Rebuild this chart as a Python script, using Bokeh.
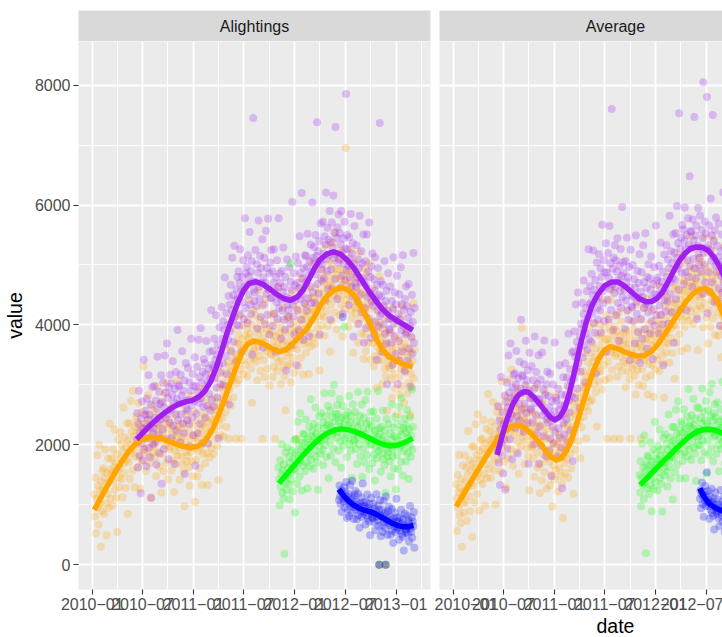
import pandas as pd
from bokeh.plotting import figure
from bokeh.layouts import row, column
from bokeh.models import Range1d, FixedTicker, Label, Title, ColumnDataSource
from bokeh.embed import file_html
from bokeh.resources import INLINE

FONT = "Liberation Sans"
CHUNK_DAYS = 30.4                     # each inner list holds roughly one month of daily counts
EPOCH = pd.Timestamp("2010-01-01")    # fitted-curve days are counted from here

x_tick_months = ["2010-01", "2010-07", "2011-01", "2011-07", "2012-01", "2012-07", "2013-01"]
x_minor_months = ["2010-04", "2010-10", "2011-04", "2011-10", "2012-04", "2012-10", "2013-04"]
y_ticks = [0, 2000, 4000, 6000, 8000]
y_tick_labels = ["0", "2000", "4000", "6000", "8000"]
y_minor_ticks = [1000, 3000, 5000, 7000]
y_limits = (-415, 8728)

colors = {"orange": "#FFA500", "purple": "#A020F0", "green": "#00FF00", "blue": "#0000FF"}

# ---------------- Alightings ----------------
alight_orange_start = "2010-01-08"
alight_orange = [
    [1175, 805, 1455, 525, 1105, 1825, 955, 1315, 665, 1995, 1015, 1235, 300, 1385, 895, 1565],
    [1240, 1610, 850, 1450, 1920, 1020, 1340, 490, 1530, 1180, 1770, 950, 1390, 2350, 1100, 1580],
    [1765, 1525, 985, 1925, 1375, 1635, 2255, 1245, 1705, 1115, 1845, 545, 1565, 2085, 1455, 1295],
    [1620, 2210, 1770, 1430, 2010, 1120, 1890, 2620, 1690, 1530, 2130, 1280, 1960, 1750, 2360, 850],
    [2080, 1710, 2360, 1430, 2010, 2730, 1860, 2220, 1570, 2900, 1920, 2140, 1290, 2290, 1800, 2470],
    [2015, 2385, 1625, 2225, 2695, 1795, 2115, 1265, 2305, 1955, 2545, 1725, 2165, 3300, 1875, 2355],
    [2340, 2100, 1560, 2500, 1950, 2210, 2830, 1820, 2280, 1690, 2420, 1120, 2140, 2660, 2030, 1870],
    [1975, 2565, 2125, 1785, 2365, 1475, 2245, 2975, 2045, 1885, 2485, 1635, 2315, 2105, 2715, 1205],
    [2210, 1840, 2490, 1560, 2140, 2860, 1990, 2350, 1700, 3030, 2050, 2270, 1420, 2420, 1930, 2600],
    [1960, 2330, 1570, 2170, 2640, 1740, 2060, 1210, 2250, 1900, 2490, 1670, 2110, 3070, 1820, 2300],
    [2195, 1955, 1415, 2355, 1805, 2065, 2685, 1675, 2135, 1545, 2275, 975, 1995, 2515, 1885, 1725],
    [1815, 2405, 1965, 1625, 2205, 1315, 2085, 2815, 1885, 1725, 2325, 1475, 2155, 1945, 2555, 1045],
    [2120, 1750, 2400, 1470, 2050, 2770, 1900, 2260, 1610, 2940, 1960, 2180, 1330, 2330, 1840, 2510],
    [2080, 2450, 1690, 2290, 2760, 1860, 2180, 1330, 2370, 2020, 2610, 1790, 2230, 3190, 1940, 2420],
    [2630, 2390, 1850, 2790, 2240, 2500, 3120, 2110, 2570, 1980, 2710, 1410, 2430, 2950, 2320, 2160],
    [2635, 3225, 2785, 2445, 3025, 2135, 2905, 3635, 2705, 2545, 3145, 2295, 2975, 2765, 3375, 2100],
    [3300, 2930, 3580, 2650, 3230, 3950, 3080, 3440, 2790, 4120, 3140, 3360, 2100, 3510, 3020, 3690],
    [3470, 3840, 3080, 3680, 4150, 3250, 3570, 2100, 3760, 3410, 4000, 3180, 3620, 4580, 3330, 3810],
    [3920, 3680, 3140, 4080, 3530, 3790, 4410, 3400, 3860, 3270, 4000, 2700, 3720, 4240, 3610, 3450],
    [3575, 4165, 3725, 3385, 3965, 3075, 3845, 4575, 3645, 3485, 4085, 3235, 3915, 3705, 4315, 2100],
    [3780, 3410, 4060, 3130, 3710, 4430, 3560, 3920, 3270, 4600, 3620, 3840, 2990, 3990, 3500, 4170],
    [3520, 3890, 3130, 3730, 4200, 3300, 3620, 2100, 3810, 3460, 4050, 3230, 3670, 4630, 3380, 3860],
    [3795, 3555, 3015, 3955, 3405, 3665, 4285, 3275, 3735, 3145, 3875, 2575, 3595, 4115, 3485, 3325],
    [3540, 4130, 3690, 3350, 3930, 3040, 3810, 4540, 3610, 3450, 4050, 3200, 3880, 3670, 4280, 2100],
    [3960, 3590, 4240, 3310, 3890, 4610, 3740, 4100, 3450, 4780, 3800, 4020, 3170, 4170, 3680, 4350],
    [3930, 4300, 3540, 4140, 4610, 3710, 4030, 3180, 4220, 3870, 4460, 3640, 4080, 5040, 3790, 4270],
    [4460, 4220, 3680, 4620, 4070, 4330, 4950, 3940, 4400, 3810, 4540, 3240, 4260, 4780, 4150, 3990],
    [4320, 4910, 4470, 4130, 4710, 3820, 4590, 5320, 4390, 4230, 4830, 3980, 4660, 4450, 5060, 3550],
    [4715, 4345, 4995, 4065, 4645, 5365, 4495, 4855, 4205, 5535, 4555, 4775, 3925, 4925, 4435, 5105],
    [4555, 4925, 4165, 4765, 5235, 4335, 4655, 3805, 4845, 4495, 5085, 4265, 4705, 6950, 4415, 4895],
    [4755, 4515, 3975, 4915, 4365, 4625, 5245, 4235, 4695, 4105, 4835, 3535, 4555, 5075, 4445, 4285],
    [4200, 4790, 4350, 4010, 4590, 3700, 4470, 5200, 4270, 4110, 4710, 3860, 4540, 4330, 4940, 3430],
    [4210, 3840, 4490, 3560, 4140, 4860, 3990, 4350, 3700, 5030, 4050, 4270, 3420, 4420, 3930, 4600],
    [3700, 4070, 3310, 3910, 4380, 3480, 3800, 2950, 3990, 3640, 4230, 3410, 3850, 4810, 3560, 4040],
    [3790, 3550, 3010, 3950, 3400, 3660, 4280, 3270, 3730, 3140, 3870, 2570, 3590, 4110, 3480, 3320],
    [3280, 3870, 3430, 3090, 3670, 2780, 3550, 4280, 3350, 3190, 3790, 2940, 3620, 3410, 4020, 2510],
    [3485, 3115, 3765, 2835, 3415, 4135, 3265, 3625, 2975, 4305, 3325, 3545, 2695, 3695, 3205, 3875],
    [3250, 3620, 2860, 3460, 3930, 3030, 3350, 2500, 3540, 3190, 3780, 2960, 3400, 4360, 3110, 3590],
]
alight_orange_fit_day = [7, 30, 55, 80, 105, 130, 155, 180, 205, 230, 255, 280, 305, 330, 355, 380,
                         400, 420, 440, 460, 480, 500, 520, 540, 560, 580, 600, 625, 650, 675, 700,
                         725, 750, 775, 800, 825, 850, 875, 898, 920, 945, 965, 985, 1005, 1025,
                         1045, 1070, 1095, 1125, 1156]
alight_orange_fit = [912, 1110, 1320, 1520, 1710, 1880, 2010, 2090, 2120, 2120, 2095, 2050, 2005,
                     1970, 1955, 1975, 2030, 2150, 2320, 2550, 2800, 3060, 3310, 3540, 3680, 3730,
                     3715, 3665, 3600, 3555, 3590, 3700, 3820, 3940, 4130, 4340, 4500, 4590, 4623,
                     4590, 4490, 4340, 4170, 3990, 3760, 3600, 3470, 3400, 3340, 3300]

alight_purple_start = "2010-06-10"
alight_purple = [
    [2090, 2530, 1620, 2340, 2900, 1820, 2210, 1190, 2440, 2020, 2720, 1740, 2270, 3420, 1920, 2500],
    [2570, 2290, 1640, 2770, 2110, 2420, 3160, 1950, 2500, 1790, 2670, 1110, 2330, 2960, 2200, 2010],
    [2270, 2980, 2450, 2040, 2740, 1670, 2600, 3470, 2360, 2160, 2880, 1860, 2680, 2430, 3160, 1350],
    [2710, 2260, 3040, 1930, 2620, 3490, 2440, 2870, 2090, 3690, 2510, 2780, 1760, 2960, 2370, 3170],
    [2585, 3025, 2115, 2835, 3395, 2315, 2705, 1685, 2935, 2515, 3215, 2235, 2765, 3915, 2415, 2995],
    [2970, 2690, 2040, 3170, 2510, 2820, 3560, 2350, 2900, 2190, 3070, 1510, 2730, 3360, 2600, 2410],
    [2570, 3280, 2750, 2340, 3040, 1970, 2900, 3770, 2660, 2460, 3180, 2160, 2980, 2730, 3460, 1650],
    [2970, 2520, 3300, 2190, 2880, 3750, 2700, 3130, 2350, 3950, 2770, 3040, 2020, 3220, 2630, 3430],
    [2920, 3360, 2450, 3170, 3730, 2650, 3040, 2020, 3270, 2850, 3550, 2570, 3100, 4250, 2750, 3330],
    [3570, 3290, 2640, 3770, 3110, 3420, 4160, 2950, 3500, 2790, 3670, 2110, 3330, 3960, 3200, 3010],
    [3590, 4300, 3770, 3360, 4060, 2990, 3920, 4790, 3680, 3480, 4200, 3180, 4000, 3750, 4480, 2670],
    [4340, 3890, 4670, 3560, 4250, 5120, 4070, 4500, 3720, 5320, 4140, 4410, 3390, 4590, 4000, 4800],
    [4450, 4890, 3980, 4700, 5260, 4180, 4570, 3550, 4800, 4380, 5080, 4100, 4630, 5780, 4280, 4860],
    [4960, 4680, 4030, 5160, 4500, 4810, 5550, 4340, 4890, 4180, 5060, 3500, 4720, 7450, 4590, 4400],
    [4540, 5250, 4720, 4310, 5010, 3940, 4870, 5740, 4630, 4430, 5150, 4130, 4950, 4700, 5430, 3620],
    [4790, 4340, 5120, 4010, 4700, 5570, 4520, 4950, 4170, 5770, 4590, 4860, 3840, 5040, 4450, 5250],
    [4450, 4890, 3980, 4700, 5260, 4180, 4570, 3550, 4800, 4380, 5080, 4100, 4630, 5780, 4280, 4860],
    [4700, 4420, 3770, 4900, 4240, 4550, 5290, 4080, 4630, 3920, 4800, 3240, 4460, 5090, 4330, 4140],
    [4250, 4960, 4430, 4020, 4720, 3650, 4580, 6050, 4340, 4140, 4860, 3840, 4660, 4410, 5140, 3330],
    [4700, 4250, 5030, 3920, 4610, 5480, 4430, 4860, 4080, 6200, 4500, 4770, 3750, 4950, 4360, 5160],
    [4710, 5150, 4240, 4960, 5520, 4440, 4830, 3810, 5060, 4640, 5340, 4360, 4890, 6040, 4540, 5120],
    [5300, 5020, 4370, 5500, 4840, 5150, 7380, 4680, 5230, 4520, 5400, 3840, 5060, 5690, 4930, 4740],
    [5010, 5720, 5190, 4780, 5480, 4410, 5340, 6210, 5100, 4900, 5620, 4600, 5420, 5170, 5900, 4090],
    [5380, 4930, 5710, 4600, 5290, 6160, 5110, 5540, 4760, 7300, 5180, 5450, 4430, 5630, 5040, 5840],
    [5090, 5530, 4620, 5340, 5900, 4820, 5210, 4190, 5440, 5020, 5720, 4740, 5270, 7850, 4920, 5500],
    [5260, 4980, 4330, 5460, 4800, 5110, 5850, 4640, 5190, 4480, 5360, 3800, 5020, 5650, 4890, 4700],
    [4620, 5330, 4800, 4390, 5090, 4020, 4950, 5820, 4710, 4510, 5230, 4210, 5030, 4780, 5510, 3700],
    [4730, 4280, 5060, 3950, 4640, 5510, 4460, 4890, 4110, 5710, 4530, 4800, 3780, 4980, 4390, 5190],
    [4320, 4760, 3850, 4570, 5130, 4050, 4440, 3420, 4670, 4250, 4950, 3970, 4500, 7370, 4150, 4730],
    [4470, 4190, 3540, 4670, 4010, 4320, 5060, 3850, 4400, 3690, 4570, 3010, 4230, 4860, 4100, 3910],
    [3930, 4640, 4110, 3700, 4400, 3330, 4260, 5130, 4020, 3820, 4540, 3520, 4340, 4090, 4820, 3010],
    [4180, 3730, 4510, 3400, 4090, 4960, 3910, 4340, 3560, 5160, 3980, 4250, 3230, 4430, 3840, 4640],
    [3870, 4310, 3400, 4120, 4680, 3600, 3990, 2970, 4220, 3800, 4500, 3520, 4050, 5200, 3700, 4280],
]
alight_purple_fit_day = [160, 185, 210, 235, 260, 285, 310, 335, 360, 385, 405, 425, 445, 465, 485,
                         505, 525, 545, 565, 590, 615, 640, 665, 690, 715, 740, 760, 780, 800, 820,
                         845, 870, 895, 920, 945, 970, 995, 1020, 1045, 1070, 1095, 1125, 1156]
alight_purple_fit = [2090, 2210, 2330, 2435, 2530, 2610, 2675, 2715, 2740, 2800, 2890, 3040, 3260,
                     3540, 3850, 4120, 4370, 4570, 4690, 4720, 4680, 4600, 4510, 4440, 4410, 4470,
                     4580, 4750, 4930, 5080, 5180, 5220, 5180, 5080, 4940, 4760, 4580, 4420, 4270,
                     4160, 4080, 4000, 3912]

alight_green_start = "2011-11-03"
alight_green = [
    [1620, 1420, 990, 1740, 1300, 1510, 2010, 1200, 1570, 1100, 1680, 180, 1460, 1870, 1370, 1240],
    [1490, 1960, 1610, 1340, 1800, 1090, 1700, 5030, 1540, 1420, 1900, 1220, 1760, 1590, 2080, 870],
    [1865, 1575, 2095, 1345, 1815, 2385, 1695, 1985, 1465, 2525, 1745, 1915, 1235, 2035, 1645, 2185],
    [1870, 2170, 1560, 2040, 2420, 1700, 1950, 1270, 2100, 1820, 2300, 1640, 1990, 2760, 1760, 2140],
    [2230, 2030, 1600, 2350, 1910, 2120, 2620, 1810, 2180, 1710, 2290, 1250, 2070, 2480, 1980, 1850],
    [2060, 2530, 2180, 1910, 2370, 1660, 2270, 2860, 2110, 1990, 2470, 1790, 2330, 2160, 2650, 1440],
    [2340, 2050, 2570, 1820, 2290, 2860, 2170, 2460, 1940, 3000, 2220, 2390, 1710, 2510, 2120, 2660],
    [2215, 2515, 1905, 2385, 2765, 2045, 2295, 1615, 2445, 2165, 2645, 1985, 2335, 3970, 2105, 2485],
    [2425, 2225, 1795, 2545, 2105, 2315, 2815, 2005, 2375, 1905, 2485, 1445, 2265, 2675, 2175, 2045],
    [2080, 2550, 2200, 1930, 2390, 1680, 2290, 2880, 2130, 2010, 2490, 1810, 2350, 2180, 2670, 1460],
    [2225, 1935, 2455, 1705, 2175, 2745, 2055, 2345, 1825, 2885, 2105, 2275, 1595, 2395, 2005, 2545],
    [2005, 2305, 1695, 2175, 2555, 1835, 2085, 1405, 2235, 1955, 2435, 1775, 2125, 2895, 1895, 2275],
    [2180, 1980, 1550, 2300, 1860, 2070, 2570, 1760, 2130, 1660, 2240, 1200, 2020, 2430, 1930, 1800],
    [1875, 2345, 1995, 1725, 2185, 1475, 2085, 2675, 1925, 1805, 2285, 1605, 2145, 1975, 2465, 1255],
    [2115, 1825, 2345, 1595, 2065, 2635, 1945, 2235, 1715, 2775, 1995, 2165, 1485, 2285, 1895, 2435],
    [2030, 2330, 1720, 2200, 2580, 1860, 2110, 1430, 2260, 1980, 2460, 1800, 2150, 2920, 1920, 2300],
]
alight_green_fit_day = [673, 700, 725, 750, 775, 800, 825, 850, 875, 900, 925, 950, 975, 1000,
                        1025, 1050, 1075, 1100, 1125, 1156]
alight_green_fit = [1357, 1500, 1640, 1770, 1900, 2020, 2120, 2200, 2250, 2265, 2250, 2215, 2165,
                    2110, 2050, 2005, 1985, 1995, 2035, 2107]

alight_blue_start = "2012-06-08"
alight_blue = [
    [1080, 1320, 1140, 1010, 1240, 880, 1190, 4130, 1110, 1050, 1290, 950, 1220, 1140, 1380, 780],
    [1070, 920, 1180, 810, 1040, 1330, 980, 1130, 870, 1400, 1010, 1100, 760, 1160, 960, 1230],
    [915, 1055, 755, 995, 1185, 825, 955, 615, 1025, 885, 1125, 795, 975, 1355, 855, 1045],
    [980, 880, 670, 1040, 820, 930, 1170, 770, 950, 720, 1010, 490, 900, 1110, 850, 790],
    [775, 1015, 835, 705, 935, 575, 885, 1175, 805, 745, 985, 645, 915, 835, 1075, 475],
    [805, 655, 915, 545, 775, 1065, 715, 865, 605, 1135, 745, 835, 495, 895, 695, 965],
    [660, 800, 500, 740, 930, 570, 700, 360, 770, 630, 870, 540, 720, 1100, 600, 790],
    [725, 625, 415, 785, 565, 675, 915, 515, 695, 465, 755, 235, 645, 855, 595, 535],
    [580, 820, 640, 510, 740, 380, 690, 980, 610, 550, 790, 450, 720, 640, 880, 280],
]
alight_blue_fit_day = [889, 905, 920, 940, 960, 980, 1000, 1020, 1040, 1060, 1080, 1100, 1120,
                       1140, 1158]
alight_blue_fit = [1257, 1160, 1080, 1000, 945, 910, 885, 850, 800, 745, 695, 655, 630, 630, 655]

# days with a recorded count of zero on every route
alight_zero_days = ["2012-11-01", "2012-11-24"]

# ---------------- Average ----------------
avg_orange_start = "2010-01-10"
avg_orange = [
    [1340, 1100, 560, 1500, 950, 1210, 1830, 820, 1280, 690, 1420, 300, 1140, 1660, 1030, 870],
    [1230, 1820, 1380, 1040, 1620, 730, 1500, 2230, 1300, 1140, 1740, 890, 1570, 1360, 1970, 460],
    [1690, 1320, 1970, 1040, 1620, 2340, 1470, 1830, 1180, 2510, 1530, 1750, 900, 1900, 1410, 2080],
    [1735, 2105, 1345, 1945, 2415, 1515, 1835, 985, 2025, 1675, 2265, 1445, 1885, 2845, 1595, 2075],
    [2225, 1985, 1445, 2385, 1835, 2095, 2715, 1705, 2165, 1575, 2305, 1005, 2025, 2545, 1915, 1755],
    [2055, 2645, 2205, 1865, 2445, 1555, 2325, 3055, 2125, 1965, 2565, 1715, 2395, 2185, 2795, 1285],
    [2435, 2065, 2715, 1785, 2365, 3085, 2215, 2575, 1925, 3255, 2275, 2495, 1645, 2645, 2155, 2825],
    [2265, 2635, 1875, 2475, 2945, 2045, 2365, 1515, 2555, 2205, 2795, 1975, 2415, 3950, 2125, 2605],
    [2460, 2220, 1680, 2620, 2070, 2330, 2950, 1940, 2400, 1810, 2540, 1240, 2260, 2780, 2150, 1990],
    [1960, 2550, 2110, 1770, 2350, 1460, 2230, 2960, 2030, 1870, 2470, 1620, 2300, 2090, 2700, 1190],
    [2055, 1685, 2335, 1405, 1985, 2705, 1835, 2195, 1545, 2875, 1895, 2115, 1265, 2265, 1775, 2445],
    [1715, 2085, 1325, 1925, 2395, 1495, 1815, 965, 2005, 1655, 2245, 1425, 1865, 2825, 1575, 2055],
    [2000, 1760, 1220, 2160, 1610, 1870, 2490, 1480, 1940, 1350, 2080, 780, 1800, 2320, 1690, 1530],
    [1950, 2540, 2100, 1760, 2340, 1450, 2220, 2950, 2020, 1860, 2460, 1610, 2290, 2080, 2690, 1180],
    [2570, 2200, 2850, 1920, 2500, 3220, 2350, 2710, 2060, 3390, 2410, 2630, 1780, 2780, 2290, 2960],
    [2855, 3225, 2465, 3065, 3535, 2635, 2955, 2105, 3145, 2795, 3385, 2565, 3005, 3965, 2715, 3195],
    [3525, 3285, 2745, 3685, 3135, 3395, 4015, 3005, 3465, 2875, 3605, 2305, 3325, 3845, 3215, 3055],
    [3420, 4010, 3570, 3230, 3810, 2920, 3690, 4420, 3490, 3330, 3930, 3080, 3760, 3550, 4160, 2100],
    [3760, 3390, 4040, 3110, 3690, 4410, 3540, 3900, 3250, 4580, 3600, 3820, 2100, 3970, 3480, 4150],
    [3525, 3895, 3135, 3735, 4205, 3305, 3625, 2100, 3815, 3465, 4055, 3235, 3675, 4635, 3385, 3865],
    [3740, 3500, 2960, 3900, 3350, 3610, 4230, 3220, 3680, 3090, 3820, 2100, 3540, 4060, 3430, 3270],
    [3340, 3930, 3490, 3150, 3730, 2840, 3610, 4340, 3410, 3250, 3850, 3000, 3680, 3470, 4080, 2100],
    [3630, 3260, 3910, 2980, 3560, 4280, 3410, 3770, 3120, 4450, 3470, 3690, 2840, 3840, 3350, 4020],
    [3550, 3920, 3160, 3760, 4230, 3330, 3650, 2800, 3840, 3490, 4080, 3260, 3700, 4660, 3410, 3890],
    [4010, 3770, 3230, 4170, 3620, 3880, 4500, 3490, 3950, 3360, 4090, 2790, 3810, 4330, 3700, 3540],
    [3870, 4460, 4020, 3680, 4260, 3370, 4140, 4870, 3940, 3780, 4380, 3530, 4210, 4000, 4610, 3100],
    [4355, 3985, 4635, 3705, 4285, 5005, 4135, 4495, 3845, 5175, 4195, 4415, 3565, 4565, 4075, 4745],
    [4360, 4730, 3970, 4570, 5040, 4140, 4460, 3610, 4650, 4300, 4890, 4070, 4510, 5470, 4220, 4700],
    [4795, 4555, 4015, 4955, 4405, 4665, 5285, 4275, 4735, 4145, 4875, 3575, 4595, 5115, 4485, 4325],
    [4460, 5050, 4610, 4270, 4850, 3960, 4730, 5460, 4530, 4370, 4970, 4120, 4800, 4590, 5200, 3690],
    [4620, 4250, 4900, 3970, 4550, 5270, 4400, 4760, 4110, 5440, 4460, 4680, 3830, 4830, 4340, 5010],
    [4210, 4580, 3820, 4420, 4890, 3990, 4310, 3460, 4500, 4150, 4740, 3920, 4360, 5320, 4070, 4550],
    [4090, 3850, 3310, 4250, 3700, 3960, 4580, 3570, 4030, 3440, 4170, 2870, 3890, 4410, 3780, 3620],
]
avg_orange_fit_day = [10, 35, 60, 85, 110, 135, 160, 185, 210, 233, 255, 275, 295, 315, 335, 355,
                      372, 390, 408, 426, 445, 465, 485, 505, 525, 545, 565, 590, 615, 640, 665,
                      690, 715, 740, 765, 790, 815, 840, 865, 890, 910, 930, 955, 977, 1000]
avg_orange_fit = [967, 1160, 1360, 1550, 1740, 1930, 2100, 2230, 2310, 2328, 2290, 2210, 2120,
                  2010, 1890, 1790, 1745, 1780, 1900, 2078, 2350, 2650, 2960, 3230, 3440, 3580,
                  3635, 3610, 3555, 3510, 3480, 3490, 3560, 3690, 3860, 4040, 4220, 4390, 4520,
                  4595, 4605, 4540, 4383, 4133, 3850]

avg_purple_start = "2010-06-08"
avg_purple = [
    [1930, 2640, 2110, 1700, 2400, 1330, 2260, 3130, 2020, 1820, 2540, 1520, 2340, 2090, 2820, 1250],
    [2710, 2260, 3040, 1930, 2620, 3490, 2440, 2870, 2090, 3690, 2510, 2780, 1760, 2960, 2370, 3170],
    [2755, 3195, 2285, 3005, 3565, 2485, 2875, 1855, 3105, 2685, 3385, 2405, 2935, 4085, 2585, 3165],
    [3145, 2865, 2215, 3345, 2685, 2995, 3735, 2525, 3075, 2365, 3245, 1685, 2905, 3535, 2775, 2585],
    [2605, 3315, 2785, 2375, 3075, 2005, 2935, 3805, 2695, 2495, 3215, 2195, 3015, 2765, 3495, 1685],
    [2760, 2310, 3090, 1980, 2670, 3540, 2490, 2920, 2140, 3740, 2560, 2830, 1810, 3010, 2420, 3220],
    [2375, 2815, 1905, 2625, 3185, 2105, 2495, 1475, 2725, 2305, 3005, 2025, 2555, 3705, 2205, 2785],
    [2735, 2455, 1805, 2935, 2275, 2585, 3325, 2115, 2665, 1955, 2835, 1275, 2495, 3125, 2365, 2175],
    [2650, 3360, 2830, 2420, 3120, 2050, 2980, 3850, 2740, 2540, 3260, 2240, 3060, 2810, 3540, 1730],
    [3560, 3110, 3890, 2780, 3470, 4340, 3290, 3720, 2940, 4540, 3360, 3630, 2610, 3810, 3220, 4020],
    [3930, 4370, 3460, 4180, 4740, 3660, 4050, 3030, 4280, 3860, 4560, 3580, 4110, 5260, 3760, 4340],
    [4650, 4370, 3720, 4850, 4190, 4500, 5240, 4030, 4580, 3870, 4750, 3190, 4410, 5040, 4280, 4090],
    [4470, 5180, 4650, 4240, 4940, 3870, 4800, 5670, 4560, 4360, 5080, 4060, 4880, 4630, 5360, 3550],
    [4870, 4420, 5200, 4090, 4780, 5650, 4600, 5030, 4250, 7600, 4670, 4940, 3920, 5120, 4530, 5330],
    [4635, 5075, 4165, 4885, 5445, 4365, 4755, 3735, 4985, 4565, 5265, 4285, 4815, 5965, 4465, 5045],
    [4865, 4585, 3935, 5065, 4405, 4715, 5455, 4245, 4795, 4085, 4965, 3405, 4625, 5255, 4495, 4305],
    [4290, 5000, 4470, 4060, 4760, 3690, 4620, 5490, 4380, 4180, 4900, 3880, 4700, 4450, 5180, 3370],
    [4550, 4100, 4880, 3770, 4460, 5330, 4280, 4710, 3930, 5530, 4350, 4620, 3600, 4800, 4210, 5010],
    [4330, 4770, 3860, 4580, 5140, 4060, 4450, 3430, 4680, 4260, 4960, 3980, 4510, 5660, 4160, 4740],
    [4785, 4505, 3855, 4985, 4325, 4635, 5375, 4165, 4715, 4005, 4885, 3325, 4545, 5175, 4415, 4225],
    [4620, 5330, 4800, 4390, 5090, 4020, 4950, 5820, 4710, 4510, 5230, 4210, 5030, 4780, 5510, 3700],
    [5205, 4755, 5535, 4425, 5115, 5985, 4935, 5365, 4585, 7530, 5005, 5275, 4255, 5455, 4865, 5665],
    [5150, 5590, 4680, 5400, 5960, 4880, 5270, 4250, 5500, 5080, 5780, 4800, 5330, 6480, 4980, 5560],
    [5560, 5280, 4630, 5760, 5100, 5410, 7470, 4940, 5490, 4780, 5660, 4100, 5320, 5950, 5190, 5000],
    [5115, 5825, 5295, 4885, 5585, 4515, 5445, 8050, 5205, 5005, 5725, 4705, 5525, 5275, 7800, 4195],
    [5330, 4880, 5660, 4550, 5240, 6110, 5060, 5490, 4710, 7500, 5130, 5400, 4380, 5580, 4990, 5790],
    [4880, 5320, 4410, 5130, 5690, 4610, 5000, 3980, 5230, 4810, 5510, 4530, 5060, 6210, 4710, 5290],
    [4880, 4600, 3950, 5080, 4420, 4730, 5470, 4260, 4810, 4100, 4980, 3420, 4640, 5270, 4510, 4320],
]
avg_purple_fit_day = [158, 175, 195, 215, 235, 255, 270, 290, 310, 330, 350, 366, 385, 402, 420,
                      440, 460, 480, 500, 520, 545, 570, 594, 620, 645, 670, 695, 715, 735, 755,
                      775, 795, 815, 835, 855, 877, 900, 920, 940, 960, 977, 1000]
avg_purple_fit = [1828, 2130, 2440, 2680, 2830, 2885, 2880, 2800, 2690, 2570, 2460, 2412, 2470,
                  2607, 2880, 3280, 3700, 4050, 4320, 4500, 4650, 4715, 4717, 4640, 4540, 4440,
                  4385, 4390, 4440, 4550, 4720, 4900, 5070, 5190, 5270, 5300, 5290, 5240, 5130,
                  4980, 4800, 4550]

avg_green_start = "2011-11-03"
avg_green = [
    [1495, 1205, 1725, 975, 1445, 2015, 1325, 1615, 1095, 2155, 1375, 1545, 190, 1665, 1275, 1815],
    [1490, 1790, 1180, 1660, 2040, 1320, 1570, 890, 1720, 1440, 1920, 1260, 1610, 2380, 1380, 1760],
    [1865, 1665, 1235, 1985, 1545, 1755, 2255, 1445, 1815, 1345, 1925, 885, 1705, 2115, 1615, 1485],
    [1705, 2175, 1825, 1555, 2015, 1305, 1915, 2505, 1755, 1635, 2115, 1435, 1975, 1805, 2295, 1085],
    [2065, 1775, 2295, 1545, 2015, 2585, 1895, 2185, 1665, 2725, 1945, 2115, 1435, 2235, 1845, 2385],
    [2040, 2340, 1730, 2210, 2590, 1870, 2120, 1440, 2270, 1990, 2470, 1810, 2160, 2930, 1930, 2310],
    [2375, 2175, 1745, 2495, 2055, 2265, 2765, 1955, 2325, 1855, 2435, 1395, 2215, 2625, 2125, 1995],
    [2140, 2610, 2260, 1990, 2450, 1740, 2350, 2940, 2190, 2070, 2550, 1870, 2410, 2240, 2730, 1520],
    [2355, 2065, 2585, 1835, 2305, 2875, 2185, 2475, 1955, 3015, 2235, 2405, 1725, 2525, 2135, 2675],
    [2160, 2460, 1850, 2330, 2710, 1990, 2240, 1560, 2390, 2110, 2590, 1930, 2280, 3050, 2050, 2430],
    [2320, 2120, 1690, 2440, 2000, 2210, 2710, 1900, 2270, 1800, 2380, 1340, 2160, 2570, 2070, 1940],
]
avg_green_fit_day = [673, 700, 725, 750, 775, 800, 825, 850, 875, 895, 920, 943, 960, 977, 1000]
avg_green_fit = [1328, 1450, 1570, 1690, 1800, 1920, 2030, 2130, 2210, 2245, 2260, 2245, 2215,
                 2178, 2120]

avg_blue_start = "2012-06-08"
avg_blue = [
    [1100, 1240, 940, 1180, 1370, 1010, 1140, 800, 1210, 1070, 1310, 980, 1160, 1540, 1040, 1230],
    [1075, 975, 765, 1135, 915, 1025, 1265, 865, 1045, 815, 1105, 585, 995, 1205, 945, 885],
    [845, 1085, 905, 775, 1005, 645, 955, 1245, 875, 815, 1055, 715, 985, 905, 1145, 545],
    [925, 775, 1035, 665, 895, 1185, 835, 985, 725, 1255, 865, 955, 615, 1015, 815, 1085],
]
avg_blue_fit_day = [889, 900, 912, 925, 945, 965, 985, 1000]
avg_blue_fit = [1273, 1170, 1080, 1010, 950, 905, 880, 870]

facets = [
    ("Alightings", [
        ("orange", alight_orange_start, alight_orange, alight_orange_fit_day, alight_orange_fit),
        ("purple", alight_purple_start, alight_purple, alight_purple_fit_day, alight_purple_fit),
        ("green", alight_green_start, alight_green, alight_green_fit_day, alight_green_fit),
        ("blue", alight_blue_start, alight_blue, alight_blue_fit_day, alight_blue_fit),
    ], alight_zero_days),
    ("Average", [
        ("orange", avg_orange_start, avg_orange, avg_orange_fit_day, avg_orange_fit),
        ("purple", avg_purple_start, avg_purple, avg_purple_fit_day, avg_purple_fit),
        ("green", avg_green_start, avg_green, avg_green_fit_day, avg_green_fit),
        ("blue", avg_blue_start, avg_blue, avg_blue_fit_day, avg_blue_fit),
    ], []),
]


def to_ms(ts):
    return pd.Timestamp(ts).value / 1e6


def spread(start, chunks):
    """Lay each month's daily counts out across that month."""
    t0 = pd.Timestamp(start)
    xs, ys = [], []
    for k, vals in enumerate(chunks):
        n = len(vals)
        for i, v in enumerate(vals):
            xs.append(t0 + pd.Timedelta(days=CHUNK_DAYS * (k + (i + 0.5) / n)))
            ys.append(v)
    return xs, ys


# shared date scale, expanded 5% on each side of the first facet's data
first_x = []
for _, start, chunks, _, _ in facets[0][1]:
    first_x += spread(start, chunks)[0]
x_min, x_max = to_ms(min(first_x)), to_ms(max(first_x))
pad = (x_max - x_min) * 0.05
x_lo, x_hi = x_min - pad, x_max + pad

PANEL_W = 352          # full facet width in px
LEFT_W, GAP = 77, 9
PANEL2_VISIBLE = 722 - (LEFT_W + PANEL_W + GAP)
STRIP_H, TOP = 31, 10
PANEL_H, BOTTOM = 548, 48

x_ticks_ms = [to_ms(m + "-01") for m in x_tick_months]
x_minor_ms = [to_ms(m + "-01") for m in x_minor_months]
x_labels = {t: m.replace("-", "\u2212") for t, m in zip(x_ticks_ms, x_tick_months)}


def style_axis(ax):
    ax.axis_line_color = None
    ax.major_tick_line_color = "#333333"
    ax.major_tick_line_width = 1.1
    ax.major_tick_out = 5
    ax.major_tick_in = 0
    ax.minor_tick_line_color = None
    ax.major_label_text_font = FONT
    ax.major_label_text_font_size = "16px"
    ax.major_label_text_color = "#4D4D4D"
    ax.major_label_standoff = 3
    ax.axis_label_text_font = FONT
    ax.axis_label_text_font_size = "19.5px"
    ax.axis_label_text_font_style = "normal"
    ax.axis_label_text_color = "black"


columns = []
for idx, (name, series, zero_days) in enumerate(facets):
    first = idx == 0
    if first:
        frame_w, b_left, b_right = PANEL_W, LEFT_W, 4
        x_end = x_hi
    else:
        frame_w, b_left, b_right = PANEL2_VISIBLE, GAP - 4, 0
        x_end = x_lo + (x_hi - x_lo) * PANEL2_VISIBLE / PANEL_W
    xr = Range1d(x_lo, x_end)
    mid = (x_lo + x_hi) / 2

    # facet strip
    s = figure(frame_width=frame_w, frame_height=STRIP_H, x_range=xr, y_range=Range1d(0, 1),
               x_axis_location=None, y_axis_location=None, toolbar_location=None,
               output_backend="svg", min_border_left=b_left, min_border_right=b_right,
               min_border_top=TOP, min_border_bottom=0)
    s.background_fill_color = "#D9D9D9"
    s.border_fill_color = "white"
    s.outline_line_color = None
    s.xgrid.visible = False
    s.ygrid.visible = False
    s.add_layout(Label(x=mid, y=0.5, text=name, text_align="center", text_baseline="middle",
                       text_font=FONT, text_font_size="16px", text_color="#1A1A1A"))

    # panel
    p = figure(frame_width=frame_w, frame_height=PANEL_H, x_range=xr, y_range=Range1d(*y_limits),
               x_axis_type="datetime", y_axis_location="left" if first else None,
               toolbar_location=None, output_backend="svg",
               min_border_left=b_left, min_border_right=b_right,
               min_border_top=0, min_border_bottom=BOTTOM)
    p.background_fill_color = "#EBEBEB"
    p.border_fill_color = "white"
    p.outline_line_color = None

    x_ticker = FixedTicker(ticks=x_ticks_ms, minor_ticks=x_minor_ms)
    y_ticker = FixedTicker(ticks=y_ticks, minor_ticks=y_minor_ticks)
    p.xaxis.ticker = x_ticker
    p.xaxis.major_label_overrides = x_labels
    style_axis(p.xaxis[0])
    if first:
        p.yaxis.ticker = y_ticker
        p.yaxis.major_label_overrides = dict(zip(y_ticks, y_tick_labels))
        p.yaxis.axis_label = "value"
        p.yaxis.axis_label_standoff = 6
        style_axis(p.yaxis[0])
    p.xgrid.ticker = x_ticker
    p.ygrid.ticker = y_ticker
    for g in (p.xgrid, p.ygrid):
        g.grid_line_color = "white"
        g.grid_line_width = 1.8
        g.minor_grid_line_color = "white"
        g.minor_grid_line_width = 0.9

    for key, start, chunks, _, _ in series:
        xs, ys = spread(start, chunks)
        xs = xs + [pd.Timestamp(d) for d in zero_days]
        ys = ys + [0] * len(zero_days)
        src = ColumnDataSource(dict(x=xs, y=ys))
        p.scatter(x="x", y="y", source=src, size=8, fill_color=colors[key],
                  fill_alpha=0.25, line_color=None)

    for key, _, _, fit_day, fit in series:
        fx = [EPOCH + pd.Timedelta(days=d) for d in fit_day]
        p.line(x=fx, y=fit, line_color=colors[key], line_width=5.5,
               line_join="round", line_cap="butt")

    if not first:
        # the x title sits under the centre of the whole facet, not just its visible part
        shift = PANEL_W / 2 - 19
        p.add_layout(Title(text="date", align="left", offset=shift, standoff=0,
                           text_font=FONT, text_font_size="19.5px", text_font_style="normal",
                           text_color="black"), "below")

    columns.append(column(s, p))

layout = row(*columns)
open("out.html", "w").write(file_html(layout, INLINE))
